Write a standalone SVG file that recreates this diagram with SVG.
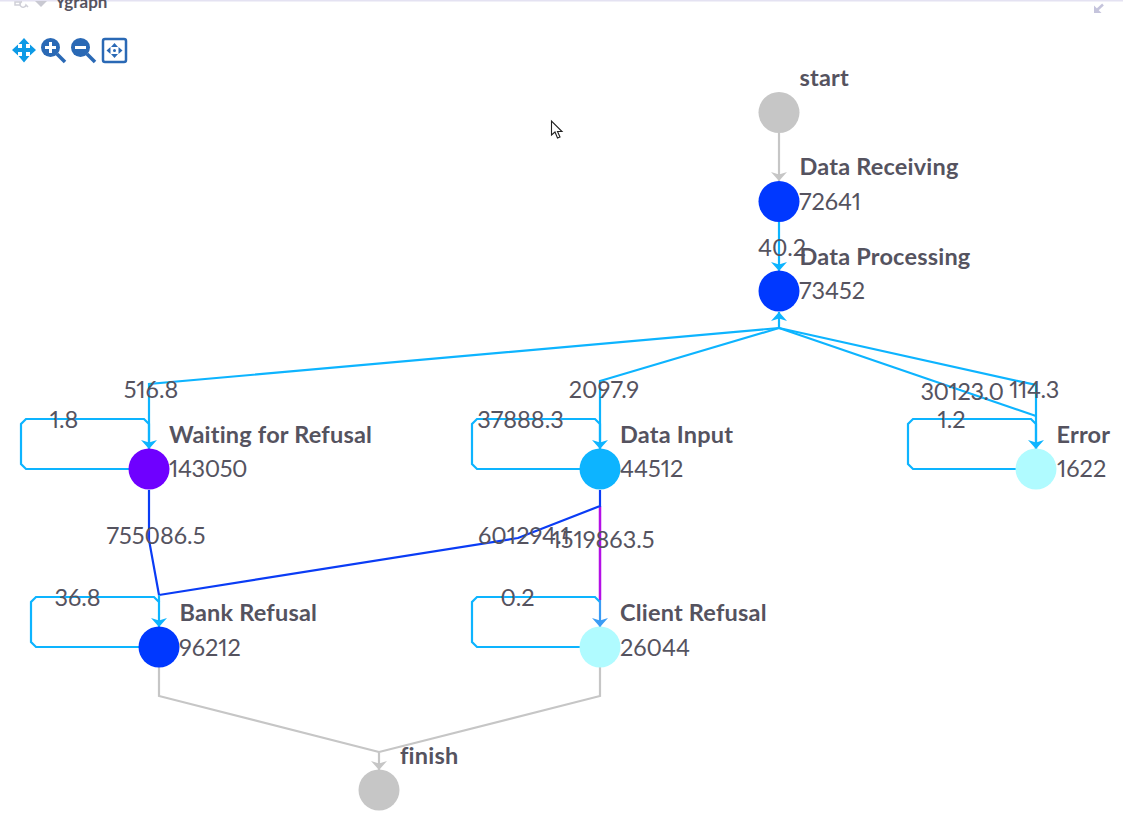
<svg xmlns="http://www.w3.org/2000/svg" width="1123" height="823" viewBox="0 0 1123 823">
<style>
text{font-family:"Lato","Liberation Sans",sans-serif;fill:#55535f;font-size:23.500px;font-variant-numeric:proportional-nums;font-feature-settings:"pnum","liga" 0}
.t{font-weight:700;letter-spacing:.2px}
.e{text-anchor:middle}
.n{letter-spacing:-.4px}
.c{fill:none;stroke:#0db4ff;stroke-width:2.200}
.g{fill:none;stroke:#c6c6c6;stroke-width:2.200}
.b{fill:none;stroke:#0a3cf5;stroke-width:2.200}
.p{fill:none;stroke:#b40fe6;stroke-width:2.500}
.ia{fill:#0d9ae6}
.id{fill:#2a69b5}
.is{stroke:#2a69b5;fill:none}
</style>
<defs>
<marker id="ac" markerUnits="userSpaceOnUse" markerWidth="20" markerHeight="20" refX="17" refY="9" orient="auto"><path d="M8 1L17 9L8 17L10.500 9Z" fill="#0db4ff"/></marker>
<marker id="am" markerUnits="userSpaceOnUse" markerWidth="20" markerHeight="20" refX="17" refY="9" orient="auto"><path d="M8 1L17 9L8 17L10.500 9Z" fill="#3a9cf5"/></marker>
<marker id="ag" markerUnits="userSpaceOnUse" markerWidth="20" markerHeight="20" refX="17" refY="9" orient="auto"><path d="M8 1L17 9L8 17L10.500 9Z" fill="#c6c6c6"/></marker>
</defs>
<rect width="1123" height="823" fill="#fff"/>
<g id="chrome">
<rect width="1123" height="1.500" fill="#e4e2f2"/>
<path d="M35 1H47L41 7Z" fill="#c9c9d2"/>
<path d="M15 2H20V5H15ZM22 1.500A3 3 0 1 0 26 5L28 7" fill="none" stroke="#d0d0d8" stroke-width="1.500"/>
<text x="55" y="8" style="font-size:17px;font-weight:700">Ygraph</text>
<path d="M1094 13V5.500L1101.500 13Z" fill="#c5c4dc"/>
<path d="M1096.500 10.500L1103 4.500" fill="none" stroke="#c5c4dc" stroke-width="2.500"/>
</g>
<g id="toolbar">
<path class="ia" d="M24 38L29.500 44H26V48H30V44.500L36 50L30 55.500V52H26V56H29.500L24 62.500L18.500 56H22V52H18V55.500L12 50L18 44.500V48H22V44H18.500Z"/>
<circle class="id" cx="50.500" cy="47.500" r="9.500"/>
<path class="is" d="M57 54L65 62" stroke-width="3.500"/>
<path d="M45 47.500H56M50.500 42V53" stroke="#fff" stroke-width="3" fill="none"/>
<circle class="id" cx="80.500" cy="47.500" r="9.500"/>
<path class="is" d="M87 54L95 62" stroke-width="3.500"/>
<path d="M75 47.500H86" stroke="#fff" stroke-width="3" fill="none"/>
<rect class="is" x="103" y="39" width="23" height="23" rx="2" stroke-width="2.500"/>
<path class="id" d="M114.500 43L118 47H111ZM114.500 58L111 54H118ZM106.500 50.500L110.500 47V54ZM122.500 50.500L118.500 54V47Z"/>
<circle class="id" cx="114.500" cy="50.500" r="1.500"/>
</g>
<g id="cursor">
<path d="M551.500 121V135L555 132L557.500 138L560 137L557.500 131.500L562 131.500Z" fill="#fff" stroke="#222" stroke-width="1.100"/>
</g>
<g id="connectors">
<path class="g" marker-end="url(#ag)" d="M779 133V181"/>
<path class="c" marker-end="url(#ac)" d="M779 222V271"/>
<path class="c" d="M779 328L149 384V449"/>
<path class="c" d="M779 328L600 381V449"/>
<path class="c" d="M779 328L1036 416"/>
<path class="c" d="M779 328L1036 385V449"/>
<path class="c" marker-end="url(#ac)" d="M779 328V312"/>
<path class="c" d="M129 469H26L21 464V424L26 419H144L149 424V449" marker-end="url(#ac)"/>
<path class="c" d="M580 469H477L472 464V424L477 419H595L600 424V449" marker-end="url(#ac)"/>
<path class="c" d="M1016 469H913L908 464V424L913 419H1031L1036 424V449" marker-end="url(#ac)"/>
<path class="b" d="M149 490V540L159 595"/>
<path class="p" d="M600 506V600"/>
<path class="b" d="M600 490V506L518 538L159 595"/>
<path class="c" d="M139 647H36L31 642V602L36 597H154L159 602V627" marker-end="url(#ac)"/>
<path class="c" d="M159 595V602"/>
<path class="c" d="M580 647H477L472 642V602L477 597H595L600 602"/>
<path d="M600 600V627" fill="none" stroke="#3a9cf5" stroke-width="2.200" marker-end="url(#am)"/>
<path class="g" d="M159 667V696L379 752"/>
<path class="g" marker-end="url(#ag)" d="M600 667V696L379 752V770"/>
</g>
<g id="edge-labels">
<text class="e" x="782" y="255.500">40.2</text>
<text class="e" x="151" y="397.500">516.8</text>
<text class="e" x="604" y="397.500">2097.9</text>
<text class="e n" x="962" y="399.500">30123.0</text>
<text class="e n" x="1034" y="397.500">114.3</text>
<text class="e" x="64" y="427.500">1.8</text>
<text class="e" x="520.500" y="427.500">37888.3</text>
<text class="e" x="951.500" y="427.500">1.2</text>
<text class="e" x="156" y="543.500">755086.5</text>
<text class="e" x="524" y="543.500">601294.1</text>
<text class="e" x="603" y="547.500">1519863.5</text>
<text class="e" x="77.500" y="605.500">36.8</text>
<text class="e" x="517.500" y="605.500">0.2</text>
</g>
<g id="node-start"><circle cx="779" cy="112.500" r="20.500" fill="#c6c6c6"/><text class="t" x="799.500" y="85.500">start</text></g>
<g id="node-data-receiving"><circle cx="779" cy="201.500" r="20.500" fill="#0038ff"/><text class="t" x="799.500" y="174.500">Data Receiving</text><text x="799" y="210">72641</text></g>
<g id="node-data-processing"><circle cx="779" cy="291" r="20.500" fill="#0038ff"/><text class="t" x="799.500" y="264.500">Data Processing</text><text x="799" y="298.500">73452</text></g>
<g id="node-waiting-for-refusal"><circle cx="149" cy="469" r="20.500" fill="#6f00ff"/><text class="t" x="169" y="442.500">Waiting for Refusal</text><text class="n" x="169" y="476.500">143050</text></g>
<g id="node-data-input"><circle cx="600" cy="469" r="20.500" fill="#0db4ff"/><text class="t" x="620" y="442.500">Data Input</text><text x="620" y="476.500">44512</text></g>
<g id="node-error"><circle cx="1036" cy="469" r="20.500" fill="#b0fbff"/><text class="t" x="1056.500" y="442.500">Error</text><text x="1057" y="476.500">1622</text></g>
<g id="node-bank-refusal"><circle cx="159" cy="647" r="20.500" fill="#0038ff"/><text class="t" x="179.500" y="620.500">Bank Refusal</text><text x="179" y="655.500">96212</text></g>
<g id="node-client-refusal"><circle cx="600" cy="647" r="20.500" fill="#b0fbff"/><text class="t" x="620" y="620.500">Client Refusal</text><text x="620" y="655.500">26044</text></g>
<g id="node-finish"><circle cx="379" cy="790" r="20.500" fill="#c6c6c6"/><text class="t" x="400" y="763.500">finish</text></g>
</svg>
